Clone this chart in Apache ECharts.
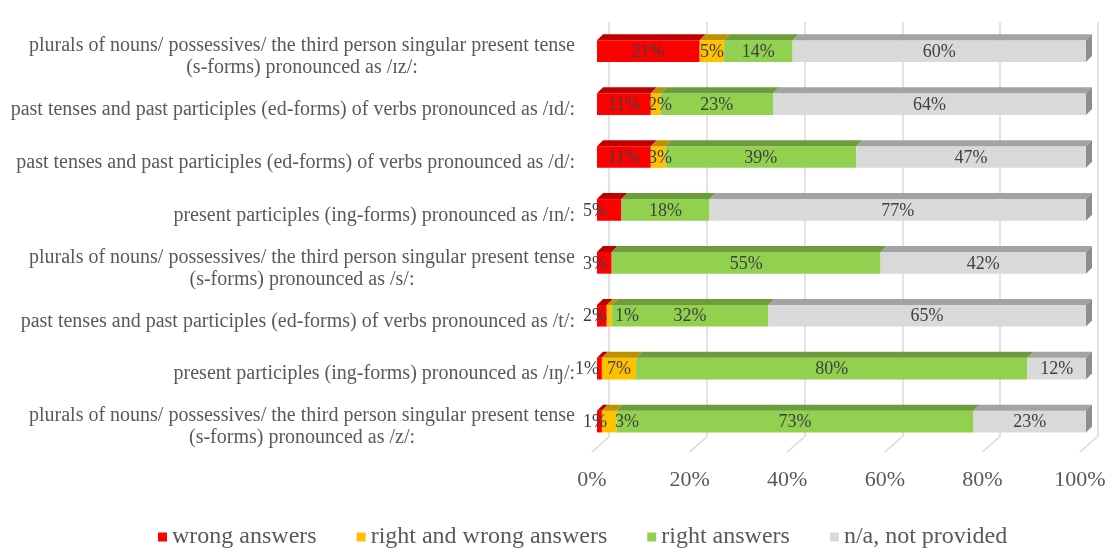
<!DOCTYPE html>
<html>
<head>
<meta charset="utf-8">
<script src="https://cdn.jsdelivr.net/npm/echarts@6/dist/echarts.min.js"></script>
<style>
  html, body { margin: 0; padding: 0; background: #fff; }
  #chart { width: 1109px; height: 548px; }
</style>
</head>
<body>
<div id="chart"></div>
<script>
// categories, top to bottom
const categories = [
  'plurals of nouns/ possessives/ the third person singular present tense\n(s-forms) pronounced as /ɪz/:',
  'past tenses and past participles (ed-forms) of verbs pronounced as /ɪd/:',
  'past tenses and past participles (ed-forms) of verbs pronounced as /d/:',
  'present participles (ing-forms) pronounced as /ɪn/:',
  'plurals of nouns/ possessives/ the third person singular present tense\n(s-forms) pronounced as /s/:',
  'past tenses and past participles (ed-forms) of verbs pronounced as /t/:',
  'present participles (ing-forms) pronounced as /ɪŋ/:',
  'plurals of nouns/ possessives/ the third person singular present tense\n(s-forms) pronounced as /z/:'
]
const wrongAnswers = [21, 11, 11, 5, 3, 2, 1, 1]
const rightAndWrong = [5, 2, 3, 0, 0, 1, 7, 3]
const rightAnswers = [14, 23, 39, 18, 55, 32, 80, 73]
const notProvided = [60, 64, 47, 77, 42, 65, 12, 23]
const seriesNames = ['wrong answers', 'right and wrong answers', 'right answers', 'n/a, not provided']
const xTicks = [0, 20, 40, 60, 80, 100]

const values = [wrongAnswers, rightAndWrong, rightAnswers, notProvided]
const colors = ['#FF0000', '#FFC000', '#92D050', '#D9D9D9']
const topColors = ['#BF0000', '#BF9000', '#6D9C3C', '#A3A3A3']
const sideColors = ['#A00000', '#A07800', '#5B8332', '#8D8D8D']

const FONT = '"Liberation Serif", "Times New Roman", serif'
const DX = 6 // bar depth
const DY = 6
const FLOOR_DX = 17 // floor depth (back grid left - front grid left)
const LABEL_GAP = 8

const ctx = document.createElement('canvas').getContext('2d')
ctx.font = '18px ' + FONT
function textW(s) { return ctx.measureText(s).width }

// stacked start/end per series per row
function stackOf(s, row) {
  let start = 0
  for (let i = 0; i < s; i++) start += values[i][row]
  return [start, start + values[s][row]]
}

// label x positions for a row, nudging labels that do not fit their segment
function rowLabels(api, row) {
  const items = []
  for (let s = 0; s < values.length; s++) {
    const v = values[s][row]
    if (!v) continue
    const se = stackOf(s, row)
    const x0 = api.coord([se[0], row])[0]
    const x1 = api.coord([se[1], row])[0]
    const w = textW(v + '%')
    const fit = w + 4 <= x1 - x0
    let cx = (x0 + x1) / 2
    if (items.length === 0 && !fit) cx = x0 - 2
    items.push({ s, cx, w, fit })
  }
  for (let i = 1; i < items.length; i++) {
    const a = items[i - 1]
    const b = items[i]
    const need = (a.w + b.w) / 2 + LABEL_GAP
    if (b.cx - a.cx < need) {
      if (!b.fit) b.cx = a.cx + need
      else if (!a.fit) a.cx = b.cx - need
    }
  }
  const out = {}
  items.forEach(it => { out[it.s] = it.cx })
  return out
}

function barSeries(s) {
  const data = []
  categories.forEach((c, row) => {
    if (values[s][row] > 0) {
      const se = stackOf(s, row)
      data.push([row, se[0], se[1], values[s][row]])
    }
  })
  return {
    name: seriesNames[s],
    type: 'custom',
    xAxisIndex: 0,
    yAxisIndex: 0,
    itemStyle: { color: colors[s] },
    encode: { x: [1, 2], y: 0 },
    data: data,
    renderItem(params, api) {
      const row = api.value(0)
      const p0 = api.coord([api.value(1), row])
      const p1 = api.coord([api.value(2), row])
      const h = api.size([0, 1])[1] * 0.41
      const top = p0[1] - h / 2
      const children = [
        {
          type: 'rect',
          shape: { x: p0[0], y: top, width: p1[0] - p0[0], height: h },
          style: { fill: colors[s] }
        },
        {
          type: 'polygon',
          shape: { points: [[p0[0], top], [p1[0], top], [p1[0] + DX, top - DY], [p0[0] + DX, top - DY]] },
          style: { fill: topColors[s] }
        }
      ]
      if (api.value(2) >= 100) {
        children.push({
          type: 'polygon',
          shape: { points: [[p1[0], top], [p1[0] + DX, top - DY], [p1[0] + DX, top + h - DY], [p1[0], top + h]] },
          style: { fill: sideColors[s] }
        })
      }
      const lx = rowLabels(api, row)[s]
      children.push({
        type: 'text',
        z2: 100,
        style: {
          text: api.value(3) + '%',
          x: lx,
          y: p0[1] + 1,
          align: 'center',
          verticalAlign: 'middle',
          fill: '#404040',
          font: '18px ' + FONT
        }
      })
      return { type: 'group', children }
    }
  }
}

const chart = echarts.init(document.getElementById('chart'))
chart.setOption({
  backgroundColor: '#fff',
  animation: false,
  legend: {
    data: seriesNames,
    left: 158,
    top: 525,
    icon: 'rect',
    itemWidth: 9,
    itemHeight: 9,
    itemGap: 40,
    padding: 0,
    textStyle: { fontFamily: FONT, fontSize: 24, color: '#595959' }
  },
  grid: [
    // bars (front face)
    { left: 597, right: 23, top: 24.75, bottom: 100 },
    // back wall gridlines
    { left: 609, right: 11, top: 22, bottom: 111 },
    // floor front edge + axis labels
    { left: 592, right: 29, top: 437, bottom: 96 },
    // category labels
    { left: 597, right: 23, top: 30.5, bottom: 94.5 }
  ],
  xAxis: [
    { gridIndex: 0, type: 'value', min: 0, max: 100, show: false },
    {
      gridIndex: 1, type: 'value', min: 0, max: 100, interval: 20,
      axisLine: { show: false }, axisTick: { show: false }, axisLabel: { show: false },
      splitLine: { show: true, lineStyle: { color: '#D9D9D9', width: 1.5 } }
    },
    {
      gridIndex: 2, type: 'value', min: 0, max: 100, interval: 20,
      axisLine: { show: false }, axisTick: { show: false }, splitLine: { show: false },
      axisLabel: { formatter: '{value}%', fontFamily: FONT, fontSize: 22, color: '#595959', margin: 17 }
    },
    { gridIndex: 3, type: 'value', min: 0, max: 100, show: false }
  ],
  yAxis: [
    { gridIndex: 0, type: 'category', inverse: true, data: categories, show: false },
    { gridIndex: 1, type: 'value', min: 0, max: 1, show: false },
    { gridIndex: 2, type: 'value', min: 0, max: 1, show: false },
    {
      gridIndex: 3, type: 'category', inverse: true, data: categories,
      axisLine: { show: false }, axisTick: { show: false }, splitLine: { show: false },
      axisLabel: {
        margin: 22,
        formatter: v => v.split('\n').map(l => '{c|' + l + '}').join('\n'),
        rich: { c: { align: 'center', fontFamily: FONT, fontSize: 20, color: '#595959', lineHeight: 22 } }
      }
    }
  ],
  series: [
    barSeries(0), barSeries(1), barSeries(2), barSeries(3),
    {
      // floor edges from back wall down to front
      name: 'floor',
      type: 'custom',
      xAxisIndex: 2,
      yAxisIndex: 2,
      silent: true,
      data: xTicks.map(t => [t]),
      renderItem(params, api) {
        const front = api.coord([api.value(0), 0])
        const back = api.coord([api.value(0), 1])
        return {
          type: 'line',
          shape: { x1: front[0], y1: front[1], x2: back[0] + FLOOR_DX, y2: back[1] },
          style: { stroke: '#D9D9D9', lineWidth: 1.5 }
        }
      }
    }
  ]
})
</script>
</body>
</html>
